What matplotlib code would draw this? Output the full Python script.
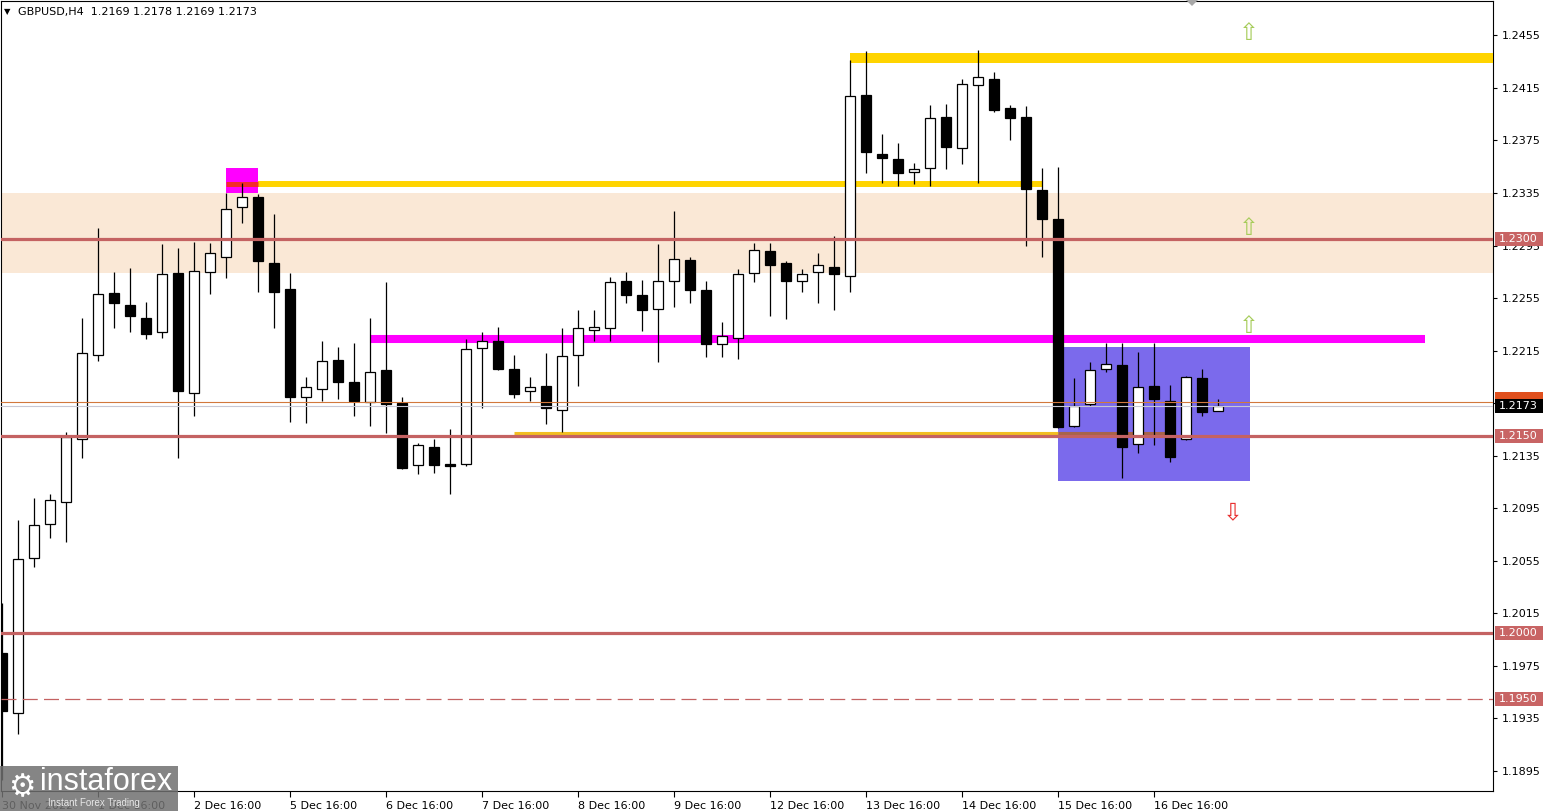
import matplotlib
matplotlib.use("Agg")
import matplotlib.pyplot as plt
from matplotlib.patches import Rectangle, Polygon
import matplotlib.transforms as mtransforms

# ---------------- data ----------------
opens = [1.1985, 1.1939, 1.2057, 1.2083, 1.2100, 1.2148, 1.2212, 1.2259, 1.2250, 1.2240,
         1.2229, 1.2274, 1.2183, 1.2275, 1.2286, 1.2324, 1.2332, 1.2282, 1.2262, 1.2180,
         1.2186, 1.2208, 1.2191, 1.2176, 1.2200, 1.2175, 1.2128, 1.2142, 1.2129, 1.2129,
         1.2217, 1.2222, 1.2201, 1.2184, 1.2188, 1.2170, 1.2212, 1.2231, 1.2232, 1.2268,
         1.2257, 1.2247, 1.2268, 1.2284, 1.2261, 1.2220, 1.2225, 1.2274, 1.2291, 1.2282,
         1.2268, 1.2275, 1.2279, 1.2272, 1.2410, 1.2365, 1.2361, 1.2351, 1.2354, 1.2393,
         1.2369, 1.2417, 1.2422, 1.2400, 1.2393, 1.2337, 1.2315, 1.2158, 1.2174, 1.2201,
         1.2204, 1.2144, 1.2188, 1.2177, 1.2148, 1.2194, 1.2169]
highs = [1.2023, 1.2086, 1.2103, 1.2106, 1.2153, 1.2240, 1.2308, 1.2275, 1.2278, 1.2252,
         1.2296, 1.2293, 1.2298, 1.2297, 1.2335, 1.2343, 1.2334, 1.2319, 1.2274, 1.2195,
         1.2222, 1.2218, 1.2221, 1.2240, 1.2267, 1.2180, 1.2145, 1.2148, 1.2155, 1.2224,
         1.2229, 1.2233, 1.2212, 1.2195, 1.2213, 1.2232, 1.2246, 1.2246, 1.2271, 1.2275,
         1.2269, 1.2296, 1.2321, 1.2286, 1.2268, 1.2237, 1.2277, 1.2297, 1.2297, 1.2283,
         1.2277, 1.2289, 1.2302, 1.2436, 1.2443, 1.2380, 1.2373, 1.2358, 1.2402, 1.2403,
         1.2422, 1.2444, 1.2427, 1.2402, 1.2401, 1.2354, 1.2355, 1.2194, 1.2206, 1.2221,
         1.2221, 1.2214, 1.2221, 1.2189, 1.2196, 1.2201, 1.2178]
lows = [1.1888, 1.1923, 1.2050, 1.2072, 1.2069, 1.2133, 1.2207, 1.2232, 1.2229, 1.2224,
        1.2225, 1.2133, 1.2165, 1.2258, 1.2270, 1.2312, 1.2260, 1.2232, 1.2161, 1.2160,
        1.2177, 1.2178, 1.2165, 1.2158, 1.2152, 1.2125, 1.2121, 1.2122, 1.2106, 1.2127,
        1.2171, 1.2200, 1.2179, 1.2177, 1.2159, 1.2153, 1.2188, 1.2222, 1.2222, 1.2251,
        1.2230, 1.2206, 1.2248, 1.2251, 1.2210, 1.2210, 1.2209, 1.2267, 1.2241, 1.2239,
        1.2260, 1.2251, 1.2246, 1.2260, 1.2350, 1.2343, 1.2340, 1.2342, 1.2340, 1.2353,
        1.2357, 1.2343, 1.2397, 1.2375, 1.2295, 1.2286, 1.2156, 1.2157, 1.2173, 1.2199,
        1.2118, 1.2137, 1.2143, 1.2130, 1.2147, 1.2165, 1.2169]
closes = [1.1941, 1.2056, 1.2082, 1.2101, 1.2149, 1.2213, 1.2258, 1.2251, 1.2241, 1.2228,
          1.2273, 1.2184, 1.2276, 1.2289, 1.2323, 1.2332, 1.2283, 1.2260, 1.2180, 1.2187,
          1.2207, 1.2191, 1.2177, 1.2199, 1.2174, 1.2126, 1.2143, 1.2128, 1.2127, 1.2216,
          1.2222, 1.2201, 1.2182, 1.2187, 1.2171, 1.2211, 1.2232, 1.2233, 1.2267, 1.2257,
          1.2246, 1.2268, 1.2285, 1.2261, 1.2220, 1.2226, 1.2273, 1.2292, 1.2280, 1.2268,
          1.2273, 1.2280, 1.2273, 1.2409, 1.2366, 1.2362, 1.2350, 1.2353, 1.2392, 1.2370,
          1.2418, 1.2423, 1.2398, 1.2392, 1.2338, 1.2315, 1.2157, 1.2173, 1.2200, 1.2205,
          1.2142, 1.2187, 1.2178, 1.2134, 1.2195, 1.2168, 1.2173]

x_tick_idx = [0, 6, 12, 18, 24, 30, 36, 42, 48, 54, 60, 66, 72]
x_tick_labels = ["30 Nov 2022", "1 Dec 16:00", "2 Dec 16:00", "5 Dec 16:00", "6 Dec 16:00",
                 "7 Dec 16:00", "8 Dec 16:00", "9 Dec 16:00", "12 Dec 16:00", "13 Dec 16:00",
                 "14 Dec 16:00", "15 Dec 16:00", "16 Dec 16:00"]
y_ticks = [1.2455, 1.2415, 1.2375, 1.2335, 1.2295, 1.2255, 1.2215, 1.2175, 1.2135,
           1.2095, 1.2055, 1.2015, 1.1975, 1.1935, 1.1895]

red_levels = [1.2300, 1.2150, 1.2000]
dashed_level = 1.1950
bid_price = 1.2173
ask_price = 1.2176
zone_low, zone_high = 1.2274, 1.2335
box_low, box_high = 1.2116, 1.2218
title_text = "GBPUSD,H4  1.2169 1.2178 1.2169 1.2173"

# ---------------- layout ----------------
W, H = 1543, 811
fig = plt.figure(figsize=(W / 100, H / 100), dpi=100)
fig.patch.set_facecolor("white")
ax = fig.add_axes([1 / W, 20 / H, 1492 / W, 790 / H])
ax.set_facecolor("white")
ax.set_xlim(-0.0625, 93.1875)
ax.set_ylim(1.187973, 1.24812)

RED = "#C46262"

# background zone and box
ax.axhspan(zone_low, zone_high, color="#FAE8D6", zorder=0.5, lw=0)
ax.add_patch(Rectangle((66.0, box_low), 12.0, box_high - box_low,
                       facecolor="#7B6AEC", edgecolor="none", zorder=1))

# trend / level lines (under candles)
ax.hlines(1.2342, 16.0, 65.0, color="#FFD400", lw=4.3, zorder=3)
ax.hlines(1.2438, 53.0, 93.2, color="#FFD400", lw=7.2, zorder=3)
ax.hlines(1.2224, 23.06, 88.94, color="#FF00FF", lw=5.8, zorder=3)
ax.hlines(1.2152, 32.0, 66.0, color="#F2BE22", lw=2.2, zorder=3)
ax.hlines(1.2152, 66.0, 72.9, color="#A8644A", lw=2.2, zorder=3)
ax.add_patch(Rectangle((14.0, 1.2335), 2.0, 0.0019, facecolor="#FF00FF",
                       edgecolor="none", zorder=3))
ax.hlines(1.2342, 14.0, 16.0, color="#F42B2B", lw=3.6, zorder=3.2)

# candles
for k, (o, h, l, c) in enumerate(zip(opens, highs, lows, closes)):
    ax.vlines(k, l, h, color="black", lw=0.9, zorder=4)
    bottom = min(o, c)
    height = max(abs(c - o), 0.00002)
    ax.add_patch(Rectangle((k - 0.32, bottom), 0.64, height,
                           facecolor="white" if c >= o else "black",
                           edgecolor="black", lw=0.9, zorder=5))

# horizontal lines above candles
for lv in red_levels:
    ax.axhline(lv, color=RED, lw=2.3, zorder=6)
ax.axhline(dashed_level, color=RED, lw=0.9, dashes=(12, 5), zorder=6)
ax.axhline(ask_price, color="#D2783C", lw=0.8, zorder=6)
ax.axhline(bid_price, color="#C8C8D4", lw=0.8, zorder=6)

# arrows
for p in [1.2457, 1.2308, 1.2234]:
    ax.text(77.94, p, "\u21E7", color="#A6CC5A", fontsize=17, ha="center",
            va="center", zorder=7, family="DejaVu Sans")
ax.text(76.94, 1.2092, "\u21E9", color="#E83030", fontsize=17, ha="center",
        va="center", zorder=7, family="DejaVu Sans")

# axes styling
for s in ax.spines.values():
    s.set_color("black")
    s.set_linewidth(0.8)
ax.yaxis.tick_right()
ax.set_yticks(y_ticks)
ax.set_yticklabels([f"{v:.4f}" for v in y_ticks])
ax.tick_params(axis="y", direction="out", length=3, width=0.8, pad=3,
               labelsize=8, colors="black")
ax.set_xticks(x_tick_idx)
ax.set_xticklabels(x_tick_labels, ha="left")
ax.tick_params(axis="x", direction="out", length=4, width=0.8, pad=3,
               labelsize=8, colors="black")
for lbl in ax.get_xticklabels():
    lbl.set_horizontalalignment("left")

# price labels at right
trans = mtransforms.blended_transform_factory(ax.transAxes, ax.transData)
lab_h = 14 * 7.614e-5
def price_label(p, face, txt=None):
    ax.add_patch(Rectangle((1.0013, p - lab_h / 2), 48 / 1492, lab_h, transform=trans,
                           facecolor=face, edgecolor="none", clip_on=False, zorder=8))
    if txt:
        ax.text(1.004, p, txt, transform=trans, color="white", fontsize=8,
                va="center", ha="left", clip_on=False, zorder=9)

for lv in red_levels + [dashed_level]:
    price_label(lv, "#C86464", f"{lv:.4f}")
price_label(1.2178, "#E0501E")
price_label(bid_price, "black", f"{bid_price:.4f}")

# title
def fx(px):
    return px / W
def fy(py):
    return 1 - py / H
fig.text(fx(4), fy(12), "\u25BC", fontsize=6, va="center", ha="left", color="black")
fig.text(fx(18), fy(12), title_text, fontsize=8, va="center", ha="left", color="black")

# shift marker
fig.patches.append(Polygon([[fx(1186), fy(0)], [fx(1198), fy(0)], [fx(1192), fy(6)]],
                           closed=True, transform=fig.transFigure,
                           facecolor="#A8A8A8", edgecolor="none", zorder=10))

# watermark logo
fig.patches.append(Rectangle((0, 0), fx(178), 45 / H, transform=fig.transFigure,
                             facecolor="#707070", alpha=0.85, edgecolor="none", zorder=10))
fig.text(fx(22), fy(788), "\u2699", fontsize=22, color="white", ha="center",
         va="center", zorder=11, family="DejaVu Sans")
fig.text(fx(40), fy(782), "instaforex", fontsize=22, color="white", ha="left",
         va="center", zorder=11, family="Liberation Sans")
fig.text(fx(48), fy(803), "Instant Forex Trading", fontsize=7, color="#E8E8E8",
         ha="left", va="center", zorder=11, family="Liberation Sans")

fig.savefig("out.png", dpi=100)
